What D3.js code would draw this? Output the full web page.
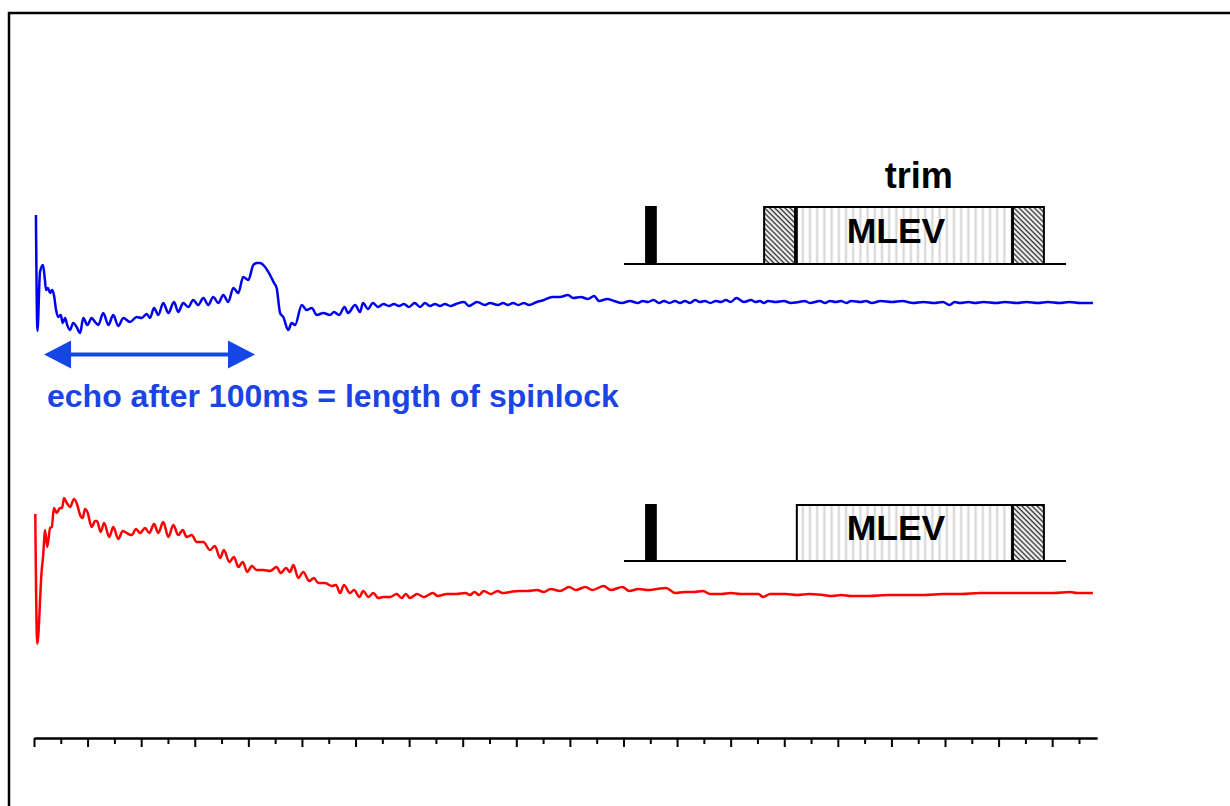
<!DOCTYPE html>
<html>
<head>
<meta charset="utf-8">
<script src="https://cdn.jsdelivr.net/npm/d3@7"></script>
<style>
  body { margin: 0; background: #fff; overflow: hidden; }
  svg { display: block; font-family: 'Liberation Sans', Arial, sans-serif; }
</style>
</head>
<body>
<svg width="1230" height="806"></svg>
<script>
'use strict';

/* Echo trace with trim pulses, [ms, signal]. */
var blueTrace = [
  [0.9, 43.5], [1.6, -14.5], [2.8, 15], [4.2, 18.5], [5.1, 11], [5.6, 6], [6.5, 7], [7.5, 4.5],
  [8.4, 6], [9.3, 3.5], [10.3, -4], [11.3, -7.5], [12.5, -6.5], [13.4, -10.5], [14.5, -8],
  [15.5, -11.5], [16.8, -14], [18.3, -10.5], [19.9, -12.5], [21.5, -15.5], [23.0, -8],
  [24.9, -11.5], [26.9, -8], [28.5, -10], [30.0, -11.5], [32.3, -5.5], [34.7, -11.5],
  [37.0, -6.5], [39.3, -12], [41.7, -8], [44.8, -10], [47.9, -7.5], [50.2, -8], [52.6, -6],
  [54.1, -8], [56.0, -3], [58.0, -6.5], [60.3, -0.5], [62.7, -5.5], [65.3, 0], [67.3, -5],
  [69.6, -0.5], [72.0, -2.5], [74.3, 1], [76.6, -1.5], [79.0, 2], [81.3, -1.5], [83.6, 2.5],
  [86.0, -0.5], [88.3, 3.5], [90.6, 0], [93.0, 7], [95.3, 4.5], [97.6, 12.5], [100.0, 11],
  [102.3, 18.5], [104.0, 19.5], [105.4, 19.5], [107.8, 17.5], [110.1, 13.5], [112.0, 9.5],
  [113.2, 7], [114.8, -5.5], [116.3, -7.5], [118.6, -14], [120.2, -10.5], [121.8, -11.5],
  [124.9, -1.5], [127.2, -4], [129.6, -3], [131.9, -6.5], [135.0, -5.5], [138.1, -6.5],
  [140.0, -5], [142.3, -6.5], [144.9, -2.5], [146.5, -5.5], [149.8, -1.5], [152.1, -5],
  [153.5, -0.5], [155.8, -3.5], [158.1, -0.5], [160.5, -2.5], [163.0, -1], [165.6, -2],
  [167.9, -1], [170.3, -2], [172.6, -1], [174.9, -2.5], [177.6, -0.5], [180.1, -2.5],
  [182.4, -0.5], [184.7, -2], [187.1, -1], [189.4, -2], [191.7, -1], [194.3, -2], [196.9, -1],
  [200.6, 0], [202.9, -2], [206.7, 0], [210.4, -1.5], [212.7, -0.5], [216.5, -1.5],
  [218.8, -0.5], [221.1, -1.5], [223.5, -0.5], [226.0, -1.5], [228.5, -0.5], [230.9, -1.5],
  [234.5, 0], [237.9, 1], [241.7, 2.5], [245.4, 2.5], [249.1, 3.5], [251.5, 2], [255.2, 2.5],
  [258.4, 1.5], [261.3, 3], [263.6, 0.5], [267.4, 1.5], [270.6, 0.5], [274.3, -0.5],
  [278.0, 0.5], [281.7, -0.5], [284, 0.5], [286.4, 0], [289, 1], [291.6, -0.5], [293.9, 0.5],
  [296.5, -0.5], [299.0, 0.5], [301.4, -0.5], [303.7, 0.5], [306.0, -0.5], [308.4, 1],
  [310.7, 0], [313.0, 0.5], [315.5, -0.5], [318.1, 0.5], [320.5, 0], [322.8, 1], [325.0, 0],
  [327.7, 2], [331.2, 0], [334.5, 1], [336.6, 0], [338.7, 0.5], [340.5, -0.5], [342.4, 0.5],
  [346.0, 0], [349.9, 0.5], [353.0, -0.5], [356.9, 0], [359.5, 0.5], [362.0, -0.5],
  [366.7, 0.5], [369.0, -0.5], [371.3, 0.5], [374.0, 0], [376.5, 0.5], [379.0, -0.5],
  [381.2, 0.5], [385.8, 0], [388.0, 0.5], [390.9, -0.5], [395.0, 0.5], [400.3, 0],
  [405.0, 0.5], [410.1, -0.5], [415.0, 0], [419.9, -0.5], [424.0, 0], [427.1, -1.5],
  [429.5, 0], [432.0, -0.5], [436.0, 0], [439.0, -0.5], [443.0, 0], [448.8, -0.5], [453.0, 0],
  [458.6, -0.5], [463.0, 0], [468.4, -0.5], [473.0, 0], [478.4, -0.5], [483.0, 0],
  [488.0, -0.5], [494.0, -0.5]
];

/* Trace with MLEV only, [ms, signal]. */
var redTrace = [
  [0.6, 39.5], [1.5, -25.5], [3.6, 11.5], [4.3, 19], [5.1, 31.5], [6.2, 23], [7.5, 32.5],
  [8.3, 33], [9.3, 42.5], [10.6, 40], [12.1, 42.5], [13.1, 42.5], [14.0, 47.5], [15.3, 45],
  [16.8, 43], [18.7, 47], [20.2, 44], [21.5, 39], [22.7, 37.5], [23.8, 42], [24.9, 40.5],
  [26.9, 33], [28.5, 36], [29.4, 36], [31.1, 30.5], [32.7, 35], [35.1, 28], [37.0, 33],
  [39.3, 27], [41.4, 31], [44.0, 29.5], [45.6, 29], [47.6, 32], [49.5, 30], [51.8, 32.5],
  [53.8, 30], [56.0, 34.5], [58.0, 30], [60.3, 35.5], [62.7, 28], [65.0, 34], [67.3, 29],
  [69.4, 31.5], [71.2, 28], [73.6, 29], [75.9, 25.5], [79.0, 25.5], [82.1, 21.5], [84.4, 23.5],
  [86.8, 17.5], [88.6, 21.5], [91.1, 15.5], [93.3, 18], [95.3, 13], [97.4, 15.5], [99.5, 10.5],
  [101.6, 13.5], [103.9, 11.5], [107.0, 11.5], [110.1, 11], [113.2, 13], [115.1, 10],
  [117.6, 12.5], [119.4, 10.5], [121.0, 14], [123.3, 7.5], [125.6, 10.5], [128.4, 6],
  [130.6, 7.5], [132.6, 5], [135.8, 5], [138.9, 3.5], [140.9, 4], [142.8, 0], [144.6, 4],
  [147.4, 0], [149.3, 1.5], [151.8, -2], [153.6, 1], [156.0, -2], [158.3, 0], [160.6, -2.5],
  [163.0, -2], [166.1, -2], [169.2, -0.5], [171.5, -2.5], [173.5, -0.5], [175.4, -2.5],
  [178.7, -0.5], [181.9, -2], [186.1, 0], [188.3, -1.5], [192.7, -0.5], [196.9, -0.5],
  [201.3, 0], [203.4, -1], [205.5, 0.5], [207.6, -1], [209.8, 1], [213.1, -0.5], [216.3, 1],
  [218.5, 0], [222.1, 0.5], [226.0, 1], [230.3, 1], [234.7, 1.5], [237.8, 0.5], [241.1, 2],
  [245.4, 1], [249.6, 3], [252.8, 1.5], [257.2, 3], [260.5, 1.5], [265.8, 3.5], [269.1, 1.5],
  [274.5, 3], [277.7, 1], [282.0, 2], [286.3, 1.5], [290.6, 2], [294.8, 2.5], [299.2, 0],
  [303.5, 0.5], [307.8, 0.5], [312.1, 1], [315.4, -0.5], [320.7, -0.5], [325.1, 0],
  [329.4, -0.5], [333.6, -0.5], [338.0, -0.5], [340.1, -2], [343.4, -0.5], [350.8, -0.5],
  [356.0, -1], [361.5, -0.5], [368.1, -1], [372.3, -1.5], [376.7, -1], [381.0, -1.5],
  [389.5, -1.5], [398.3, -1], [406.8, -1], [415.5, -1], [424.1, -0.5], [432.7, -0.5],
  [441.3, 0], [450.0, 0], [458.6, 0], [467.0, 0], [475.8, 0], [483.3, 0.5], [486.6, 0],
  [494.0, 0]
];

/* Time axis ticks, ms. Every other tick is a long one. */
var tickMs = d3.range(0, 488, 12.5);

/* Echo arrow span, ms. */
var echoSpan = [4.7, 103.1];

/* Pulse sequence blocks, in sequence units [start, end]. */
var pulseBlock = [5, 7.2];
var trimBlocks = [[31.7, 38.7], [88.0, 95.0]];
var mlevBlock = [39.1, 87.8];

var svg = d3.select('svg');
var defs = svg.append('defs');

/* Hatch for the trim pulses. */
defs.append('pattern')
  .attr('id', 'hatch')
  .attr('patternUnits', 'userSpaceOnUse')
  .attr('width', 3.6)
  .attr('height', 3.6)
  .attr('patternTransform', 'rotate(-45)')
  .append('line')
  .attr('x1', 1.2).attr('y1', 0).attr('x2', 1.2).attr('y2', 3.6)
  .attr('stroke', '#333').attr('stroke-width', 1.5);

/* Light vertical stripes inside MLEV. */
defs.append('pattern')
  .attr('id', 'stripes')
  .attr('patternUnits', 'userSpaceOnUse')
  .attr('width', 7.2)
  .attr('height', 10)
  .append('rect')
  .attr('x', 2.4).attr('width', 2.4).attr('height', 10)
  .attr('fill', '#d9d9d9');

/* Outer frame, cut off by the page edge. */
svg.append('path')
  .attr('d', 'M9,900V13H1300')
  .attr('fill', 'none')
  .attr('stroke', '#000')
  .attr('stroke-width', 2.5);

/* Scales. */
var x = d3.scaleLinear().domain([0, 496]).range([34, 1097.2]);
var y = d3.scaleLinear().domain([-30, 50]).range([60, -100]);
var seq = d3.scaleLinear().domain([0, 100]).range([624, 1066]);

var line = d3.line()
  .curve(d3.curveMonotoneX)
  .x(function (d) { return x(d[0]); })
  .y(function (d) { return y(d[1]); });

/* Traces. */
svg.append('g')
  .attr('transform', 'translate(0,302)')
  .append('path')
  .datum(blueTrace)
  .attr('d', line)
  .attr('fill', 'none')
  .attr('stroke', '#0000f0')
  .attr('stroke-width', 2.5)
  .attr('stroke-linejoin', 'round');

svg.append('g')
  .attr('transform', 'translate(0,593)')
  .append('path')
  .datum(redTrace)
  .attr('d', line)
  .attr('fill', 'none')
  .attr('stroke', '#ff0000')
  .attr('stroke-width', 2.5)
  .attr('stroke-linejoin', 'round');

/* Echo arrow. */
var arrow = svg.append('g').attr('fill', '#1446e6');
var ax0 = x(echoSpan[0]);
var ax1 = x(echoSpan[1]);
var ay = 354.5;
arrow.append('rect')
  .attr('x', ax0 + 20).attr('y', ay - 2)
  .attr('width', ax1 - ax0 - 40).attr('height', 4);
arrow.append('path')
  .attr('d', 'M' + ax0 + ',' + ay + 'L' + (ax0 + 27) + ',' + (ay - 14) + 'V' + (ay + 14) + 'Z');
arrow.append('path')
  .attr('d', 'M' + ax1 + ',' + ay + 'L' + (ax1 - 27) + ',' + (ay - 14) + 'V' + (ay + 14) + 'Z');

svg.append('text')
  .attr('x', 47)
  .attr('y', 407)
  .attr('fill', '#1a44e6')
  .attr('font-weight', 'bold')
  .attr('font-size', 32)
  .text('echo after 100ms = length of spinlock');

/* Pulse sequence sketches. */
drawSequence(264, 57, trimBlocks);
drawSequence(561, 56, trimBlocks.slice(1));

svg.append('text')
  .attr('x', seq(66.7))
  .attr('y', 188)
  .attr('text-anchor', 'middle')
  .attr('font-weight', 'bold')
  .attr('font-size', 36)
  .text('trim');

/* Time axis. */
var axis = svg.append('g')
  .attr('transform', 'translate(0,738)')
  .call(d3.axisBottom(x).tickValues(tickMs).tickFormat('').tickSizeOuter(0));

axis.select('.domain').attr('stroke-width', 2.5);
axis.selectAll('.tick line')
  .attr('stroke-width', 2)
  .attr('y2', function (d, i) { return i % 2 ? 6 : 9; });

function drawSequence(base, h, trims) {
  var g = svg.append('g').attr('stroke', '#000').attr('stroke-width', 2);

  g.append('line')
    .attr('x1', seq(0)).attr('x2', seq(100))
    .attr('y1', base).attr('y2', base);

  g.append('rect')
    .attr('x', seq(pulseBlock[0])).attr('y', base - h)
    .attr('width', seq(pulseBlock[1]) - seq(pulseBlock[0])).attr('height', h)
    .attr('fill', '#000');

  g.append('rect')
    .attr('x', seq(mlevBlock[0])).attr('y', base - h)
    .attr('width', seq(mlevBlock[1]) - seq(mlevBlock[0])).attr('height', h)
    .attr('fill', 'url(#stripes)');

  g.selectAll('.trim')
    .data(trims)
    .enter()
    .append('rect')
    .attr('class', 'trim')
    .attr('x', function (d) { return seq(d[0]); })
    .attr('y', base - h)
    .attr('width', function (d) { return seq(d[1]) - seq(d[0]); })
    .attr('height', h)
    .attr('fill', 'url(#hatch)');

  svg.append('text')
    .attr('x', 896)
    .attr('y', base - 21)
    .attr('text-anchor', 'middle')
    .attr('font-weight', 'bold')
    .attr('font-size', 35.5)
    .text('MLEV');
}
</script>
</body>
</html>
